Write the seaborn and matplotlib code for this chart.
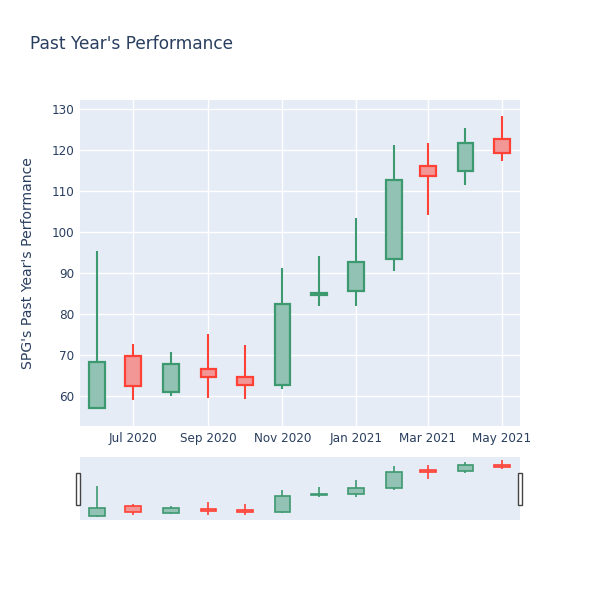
import matplotlib
matplotlib.use("Agg")
import matplotlib.pyplot as plt
import matplotlib.dates as mdates
from matplotlib.patches import Rectangle
import numpy as np
import pandas as pd
import seaborn as sns

# ---- data ----
dates = ["2020-06-01", "2020-07-01", "2020-08-01", "2020-09-01", "2020-10-01", "2020-11-01",
         "2020-12-01", "2021-01-01", "2021-02-01", "2021-03-01", "2021-04-01", "2021-05-01"]
opens = [57.2, 69.8, 61.0, 66.7, 64.8, 62.8, 84.6, 85.7, 93.4, 116.2, 115.0, 122.8]
highs = [95.4, 72.8, 70.7, 75.1, 72.4, 91.2, 94.3, 103.4, 121.3, 121.9, 125.4, 128.3]
lows = [56.8, 59.1, 60.0, 59.6, 59.3, 61.7, 82.0, 82.0, 90.6, 104.2, 111.5, 117.4]
closes = [68.3, 62.4, 67.8, 64.6, 62.7, 82.5, 85.3, 92.8, 112.9, 113.8, 121.8, 119.4]
tick_dates = ["2020-07-01", "2020-09-01", "2020-11-01", "2021-01-01", "2021-03-01", "2021-05-01"]
tick_labels = ["Jul 2020", "Sep 2020", "Nov 2020", "Jan 2021", "Mar 2021", "May 2021"]
y_ticks = [60, 70, 80, 90, 100, 110, 120, 130]

df = pd.DataFrame({"date": pd.to_datetime(dates), "open": opens, "high": highs,
                   "low": lows, "close": closes})

BG = "#E5ECF6"
TXT = "#2A3F5F"
INC_L, INC_F = "#3D9970", "#91C2B3"
DEC_L, DEC_F = "#FF4136", "#F29696"

sns.set_theme(style="darkgrid", rc={"axes.facecolor": BG, "grid.color": "white",
                                    "grid.linewidth": 1.0, "axes.edgecolor": BG})
plt.rcParams["font.family"] = ["DejaVu Sans"]

fig = plt.figure(figsize=(6, 6), dpi=100)
ax = fig.add_axes([80 / 600, 1 - 426 / 600, 440 / 600, 326 / 600])
axs = fig.add_axes([80 / 600, 1 - 520 / 600, 440 / 600, 63 / 600])

xnum = mdates.date2num(df["date"])
xmin = mdates.date2num(pd.Timestamp("2020-06-01")) - 14
xmax = mdates.date2num(pd.Timestamp("2021-05-01")) + 15
ylim = (52.75, 132.3)


def draw(a, lw_w, lw_b, width):
    inc = df["close"] >= df["open"]
    for i, row in df.iterrows():
        lc = INC_L if inc[i] else DEC_L
        fc = INC_F if inc[i] else DEC_F
        lo_b = min(row["open"], row["close"])
        hi_b = max(row["open"], row["close"])
        a.vlines(xnum[i], row["low"], lo_b, color=lc, linewidth=lw_w, zorder=2)
        a.vlines(xnum[i], hi_b, row["high"], color=lc, linewidth=lw_w, zorder=2)
        a.bar(xnum[i], hi_b - lo_b, bottom=lo_b, width=width, color=fc,
              edgecolor=lc, linewidth=lw_b, zorder=3)


draw(ax, 1.5, 1.6, 13)
ax.set_xlim(xmin, xmax)
ax.set_ylim(*ylim)
ax.set_yticks(y_ticks)
ax.set_yticklabels([str(v) for v in y_ticks], color=TXT, fontsize=8.64)
ax.set_xticks(mdates.date2num(pd.to_datetime(tick_dates)))
ax.set_xticklabels(tick_labels, color=TXT, fontsize=8.64)
ax.tick_params(length=0, pad=4)
ax.set_ylabel("SPG's Past Year's Performance", color=TXT, fontsize=10.08, labelpad=12)
for s in ax.spines.values():
    s.set_visible(False)

draw(axs, 1.2, 1.2, 13)
axs.set_xlim(xmin, xmax)
axs.set_ylim(*ylim)
axs.set_xticks([])
axs.set_yticks([])
axs.grid(False)
for s in axs.spines.values():
    s.set_visible(False)
# range slider handles
for xp in (78 / 600, 520 / 600):
    fig.patches.append(Rectangle((xp - 2 / 600, 1 - 505 / 600), 4 / 600, 32 / 600,
                                 transform=fig.transFigure, facecolor="white",
                                 edgecolor="#444444", linewidth=1.0, zorder=5))

fig.text(30 / 600, 1 - 44 / 600, "Past Year's Performance", color=TXT, fontsize=12.24,
         va="center", ha="left")

fig.savefig("out.png", dpi=100)
